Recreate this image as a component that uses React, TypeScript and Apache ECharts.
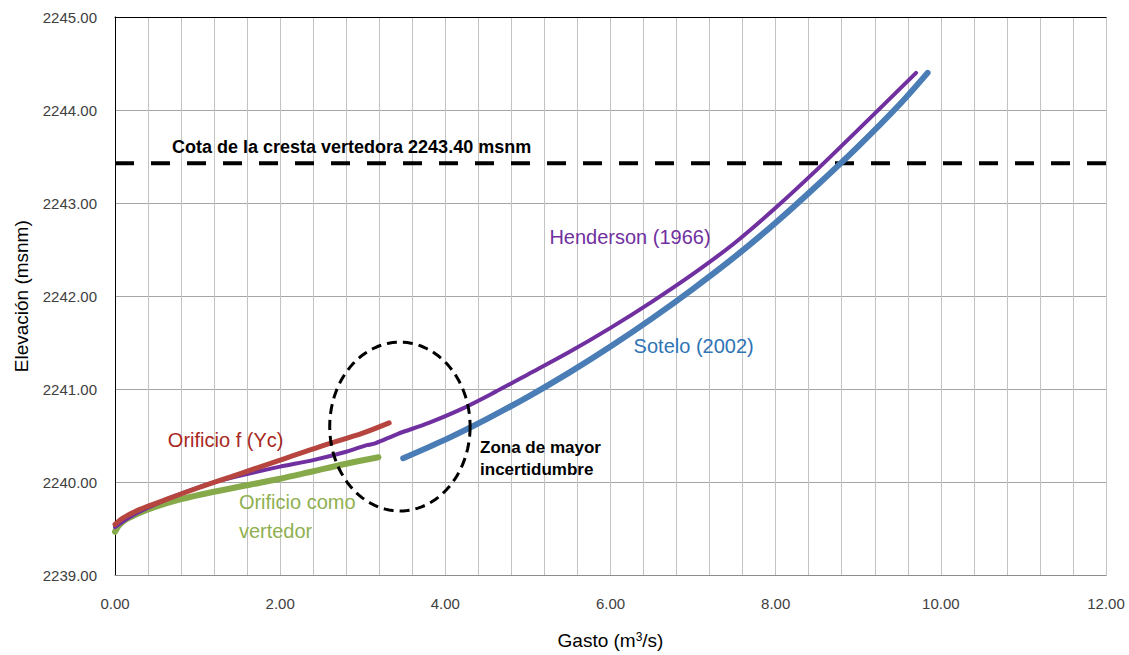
import React, { useEffect, useRef } from "react";
import * as echarts from "echarts";

// ---- Data (Gasto m3/s vs Elevación msnm) ----
const hendersonQ = [0, 0.2, 0.5, 0.8, 1.2, 1.6, 2.0, 2.4, 2.8, 3.05, 3.15, 3.42, 3.8, 4.2, 4.6, 5.0, 5.5, 6.0, 6.5, 7.0, 7.5, 8.0, 8.5, 9.0, 9.7];
const hendersonH = [2239.52, 2239.64, 2239.77, 2239.88, 2240.0, 2240.09, 2240.17, 2240.24, 2240.33, 2240.4, 2240.42, 2240.52, 2240.64, 2240.79, 2240.97, 2241.16, 2241.4, 2241.66, 2241.94, 2242.24, 2242.57, 2242.95, 2243.36, 2243.79, 2244.4];

const orificioQ = [0, 0.1, 0.3, 0.6, 1.0, 1.5, 2.0, 2.5, 3.0, 3.32];
const orificioH = [2239.55, 2239.62, 2239.71, 2239.81, 2239.94, 2240.09, 2240.24, 2240.39, 2240.53, 2240.64];

const vertedorQ = [0, 0.05, 0.15, 0.4, 0.8, 1.2, 1.6, 2.0, 2.4, 2.8, 3.19];
const vertedorH = [2239.47, 2239.54, 2239.61, 2239.71, 2239.82, 2239.9, 2239.97, 2240.04, 2240.12, 2240.2, 2240.27];

const soteloQ = [3.49, 4.0, 4.5, 5.0, 5.5, 6.0, 6.5, 7.0, 7.5, 8.0, 8.5, 9.0, 9.5, 9.84];
const soteloH = [2240.26, 2240.46, 2240.68, 2240.92, 2241.18, 2241.46, 2241.76, 2242.08, 2242.42, 2242.79, 2243.19, 2243.61, 2244.06, 2244.4];

const crestaQ = [0, 12];
const crestaH = [2243.43, 2243.43];

const X_MIN = 0;
const X_MAX = 12;
const Y_MIN = 2239;
const Y_MAX = 2245;

// annotation anchors in data units
const zonaCenter = [3.45, 2240.6];
const zonaRadii = [0.85, 0.907];

const FONT = '"Liberation Sans", Arial, sans-serif';

const pairs = (xs: number[], ys: number[]) => xs.map((x, i) => [x, ys[i]]);

export default function App() {
  const ref = useRef<HTMLDivElement>(null);

  useEffect(() => {
    document.body.style.margin = "0";
    const chart = echarts.init(ref.current!, null, { renderer: "svg" });

    const curve = (name: string, xs: number[], ys: number[], color: string, width: number, z: number) => ({
      name,
      type: "line",
      data: pairs(xs, ys),
      symbol: "none",
      smooth: 0.3,
      z,
      lineStyle: { color, width, cap: "round", join: "round" },
    });

    chart.setOption({
      animation: false,
      backgroundColor: "#ffffff",
      grid: { left: 115, right: 23, top: 17, bottom: 79, containLabel: false },
      xAxis: [
        {
          type: "value",
          min: X_MIN,
          max: X_MAX,
          interval: 2,
          name: "Gasto (m{sup|3}/s)",
          nameLocation: "middle",
          nameGap: 55,
          nameTextStyle: {
            color: "#000",
            fontFamily: FONT,
            fontSize: 19,
            rich: { sup: { fontSize: 12, fontFamily: FONT, color: "#000", verticalAlign: "top", padding: [0, 0, 8, 0] } },
          },
          axisLine: { show: true, lineStyle: { color: "#8c8c8c", width: 1 } },
          axisTick: { show: false },
          axisLabel: {
            color: "#404040",
            fontFamily: FONT,
            fontSize: 15,
            margin: 20,
            formatter: (v: number) => v.toFixed(2),
          },
          splitLine: { show: true, lineStyle: { color: "#c3c3c3", width: 1 } },
          minorTick: { show: false, splitNumber: 5 },
          minorSplitLine: { show: true, lineStyle: { color: "#c3c3c3", width: 1 } },
        },
        {
          type: "value",
          position: "top",
          min: X_MIN,
          max: X_MAX,
          axisLine: { show: true, lineStyle: { color: "#000", width: 1 } },
          axisTick: { show: false },
          axisLabel: { show: false },
          splitLine: { show: false },
        },
      ],
      yAxis: [
        {
          type: "value",
          min: Y_MIN,
          max: Y_MAX,
          interval: 1,
          name: "Elevación (msnm)",
          nameLocation: "middle",
          nameGap: 84,
          nameTextStyle: { color: "#000", fontFamily: FONT, fontSize: 19 },
          axisLine: { show: true, lineStyle: { color: "#8c8c8c", width: 1 } },
          axisTick: { show: false },
          axisLabel: {
            color: "#404040",
            fontFamily: FONT,
            fontSize: 15,
            margin: 18,
            formatter: (v: number) => v.toFixed(2),
          },
          splitLine: { show: true, lineStyle: { color: "#a6a6a6", width: 1 } },
        },
        {
          type: "value",
          position: "right",
          min: Y_MIN,
          max: Y_MAX,
          axisLine: { show: true, lineStyle: { color: "#000", width: 1 } },
          axisTick: { show: false },
          axisLabel: { show: false },
          splitLine: { show: false },
        },
      ],
      series: [
        {
          name: "Cota de la cresta vertedora",
          type: "line",
          data: pairs(crestaQ, crestaH),
          symbol: "none",
          z: 3,
          lineStyle: { color: "#000", width: 4, type: [19, 17] },
        },
        curve("Orificio como vertedor", vertedorQ, vertedorH, "#86a94a", 6, 4),
        curve("Henderson (1966)", hendersonQ, hendersonH, "#7030a0", 4, 5),
        curve("Orificio f (Yc)", orificioQ, orificioH, "#b6443f", 5, 6),
        curve("Sotelo (2002)", soteloQ, soteloH, "#4a7db5", 6, 5),
      ],
    });

    const px = (x: number, y: number) => chart.convertToPixel({ gridIndex: 0 }, [x, y]) as number[];
    const c = px(zonaCenter[0], zonaCenter[1]);
    const e = px(zonaCenter[0] + zonaRadii[0], zonaCenter[1] + zonaRadii[1]);
    const rx = Math.abs(e[0] - c[0]);
    const ry = Math.abs(c[1] - e[1]);
    const ellipsePts: number[][] = [];
    for (let i = 0; i <= 120; i++) {
      const t = (i / 120) * Math.PI * 2;
      ellipsePts.push([c[0] + rx * Math.cos(t), c[1] + ry * Math.sin(t)]);
    }

    const label = (text: string, at: number[], color: string, size: number, bold: boolean, lineHeight?: number) => {
      const p = px(at[0], at[1]);
      return {
        type: "text",
        x: p[0],
        y: p[1],
        z: 100,
        style: {
          text,
          fill: color,
          fontFamily: FONT,
          fontSize: size,
          fontWeight: bold ? "bold" : "normal",
          align: "left",
          verticalAlign: "middle",
          lineHeight: lineHeight || size * 1.2,
        },
      };
    };

    chart.setOption({
      graphic: [
        {
          type: "polyline",
          z: 90,
          shape: { points: ellipsePts },
          style: { fill: "none", stroke: "#000", lineWidth: 3, lineDash: [10, 6] },
        },
        label("Cota de la cresta vertedora 2243.40 msnm", [0.69, 2243.6], "#000", 18, true),
        label("Orificio f (Yc)", [0.64, 2240.46], "#a8281e", 20, false),
        label("Orificio como\nvertedor", [1.5, 2239.635], "#8fb050", 20, false, 29),
        label("Henderson (1966)", [5.26, 2242.64], "#7030a0", 20, false),
        label("Sotelo (2002)", [6.28, 2241.47], "#2f74b5", 20, false),
        label("Zona de mayor\nincertidumbre", [4.42, 2240.26], "#000", 17, true, 22),
      ],
    });

    return () => chart.dispose();
  }, []);

  return <div ref={ref} style={{ width: 1129, height: 655 }} />;
}
